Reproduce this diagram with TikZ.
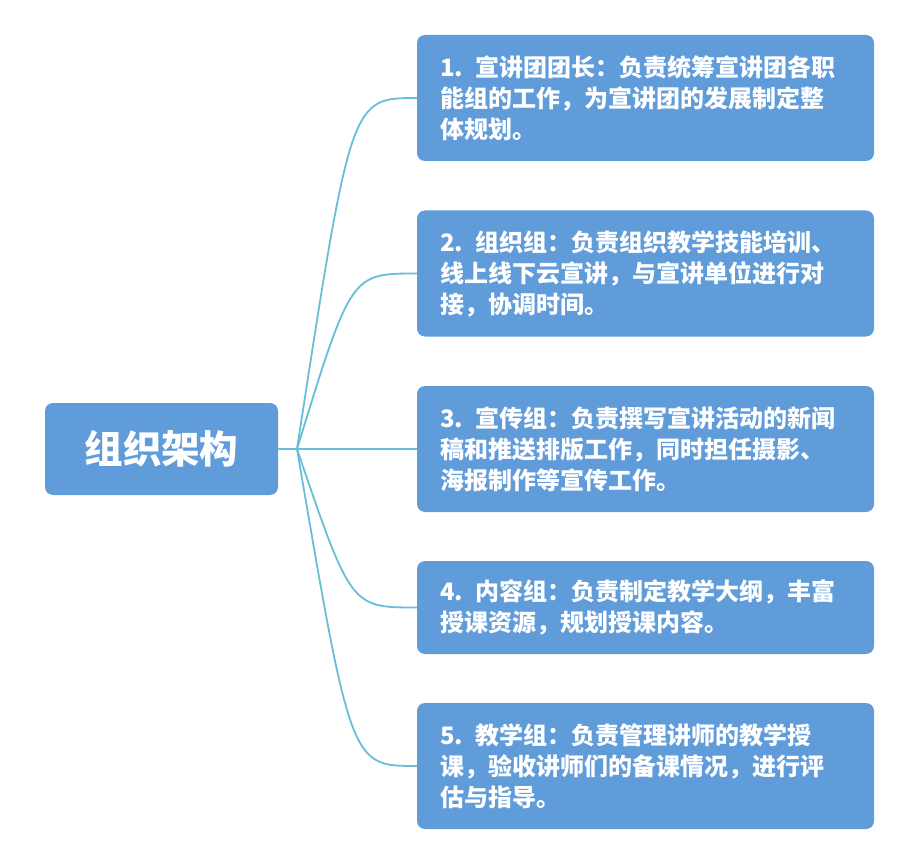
\documentclass[tikz,border=0pt]{standalone}
\usepackage{fontspec}
\newfontfamily\cjk{Noto Sans CJK SC}
\usepackage{xcolor}
\usetikzlibrary{calc}

\definecolor{boxblue}{RGB}{96,156,218}
\definecolor{linecyan}{RGB}{104,190,216}

\begin{document}
\begin{tikzpicture}[
    x=1pt, y=-1pt,
    root/.style={rectangle, rounded corners=8pt, fill=boxblue, text=white,
        minimum width=233pt, minimum height=92pt,
        font=\cjk\bfseries\fontsize{38.5}{44}\selectfont},
    branch/.style={rectangle, rounded corners=8pt, fill=boxblue, text=white,
        minimum width=457pt, minimum height=126pt, inner xsep=23pt,
        text width=411pt, align=left,
        font=\cjk\bfseries\fontsize{24}{31}\selectfont},
    link/.style={draw=linecyan, line width=1.8pt}
]
    \useasboundingbox (0,0) rectangle (922,864);

    % Root
    \node[root] (root) at (161.5, 449) {组织架构};

    % Branches
    \node[branch] (b1) at (645.5, 98) {1. 宣讲团团长：负责统筹宣讲团各职\\能组的工作，为宣讲团的发展制定整\\体规划。};
    \node[branch] (b2) at (645.5, 273.5) {2. 组织组：负责组织教学技能培训、\\线上线下云宣讲，与宣讲单位进行对\\接，协调时间。};
    \node[branch] (b3) at (645.5, 449) {3. 宣传组：负责撰写宣讲活动的新闻\\稿和推送排版工作，同时担任摄影、\\海报制作等宣传工作。};
    \node[branch, minimum height=93pt] (b4) at (645.5, 607.5) {4. 内容组：负责制定教学大纲，丰富\\授课资源，规划授课内容。};
    \node[branch] (b5) at (645.5, 766) {5. 教学组：负责管理讲师的教学授\\课，验收讲师们的备课情况，进行评\\估与指导。};

    % Fork point
    \coordinate (fork) at (297, 449);
    \coordinate (bend) at (351, 449);

    % Connections
    \draw[link] (root.east) -- (fork);
    \foreach \b in {b1,b2,b3,b4,b5}
        \draw[link] (fork) .. controls (bend |- \b.west) .. (\b.west);
\end{tikzpicture}
\end{document}
